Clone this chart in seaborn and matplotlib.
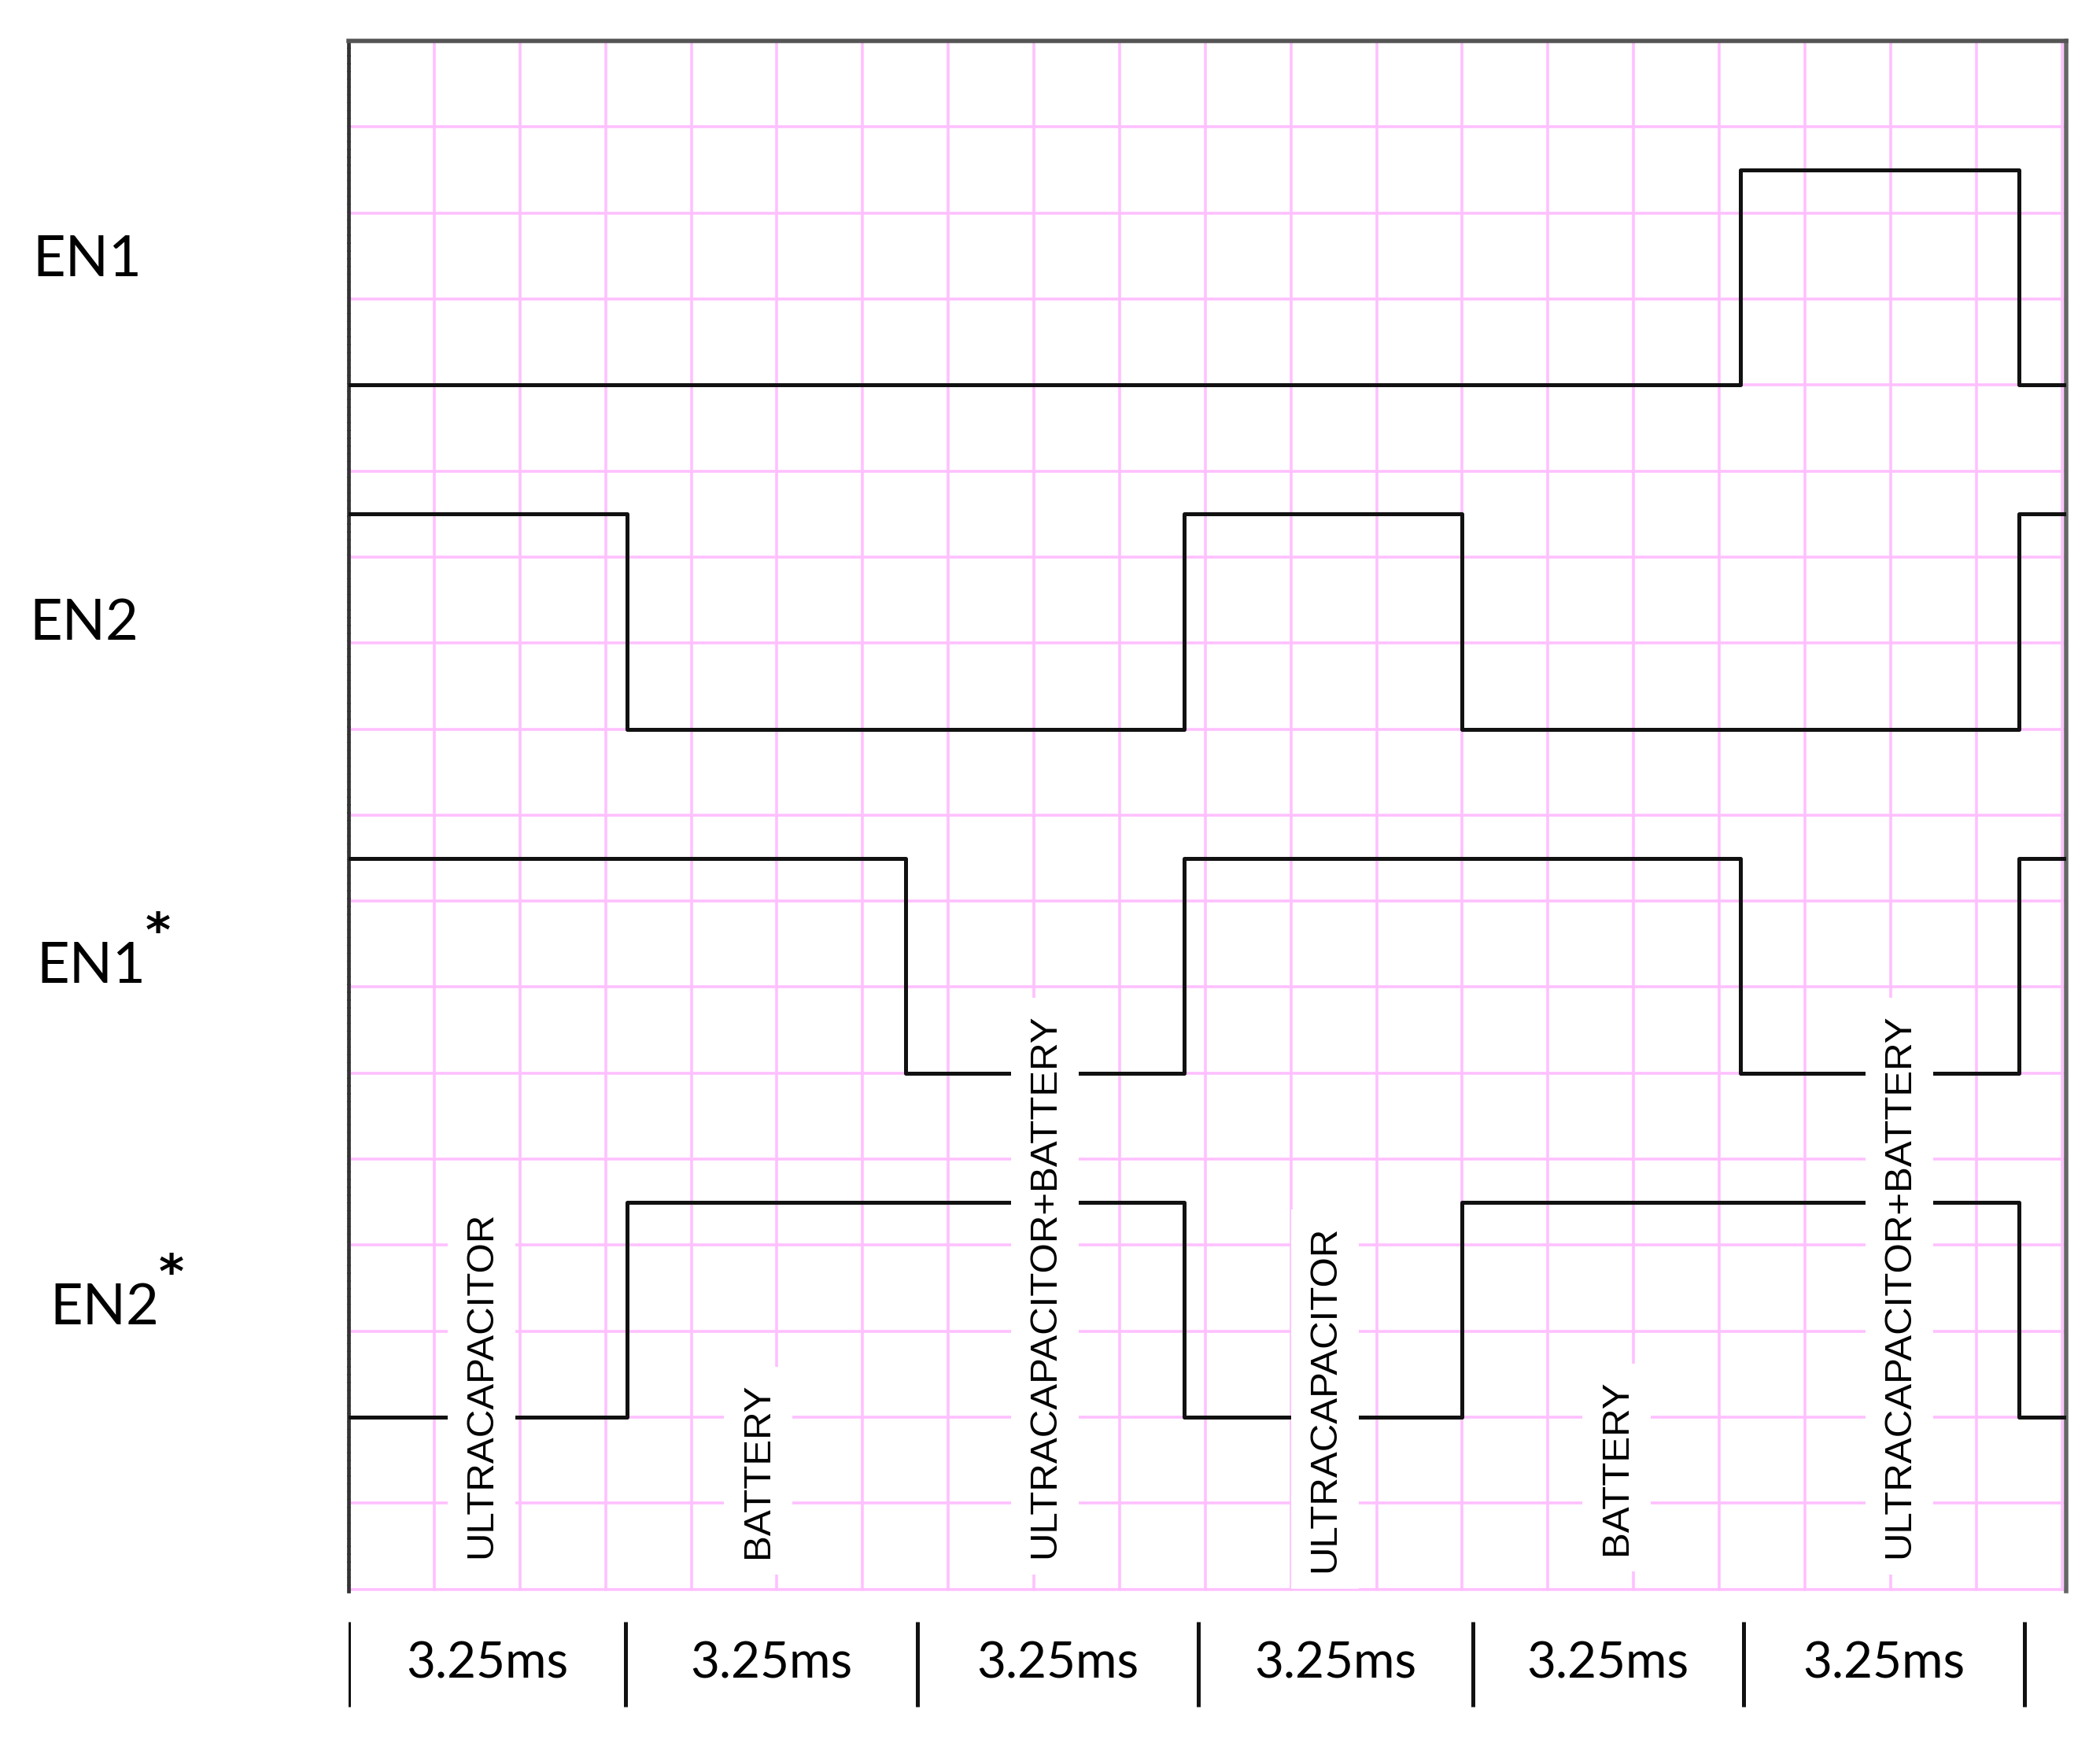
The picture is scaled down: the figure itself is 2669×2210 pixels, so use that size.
import matplotlib
matplotlib.use("Agg")
import matplotlib.pyplot as plt
import matplotlib.transforms as mtransforms
from matplotlib import font_manager
import numpy as np
import pandas as pd
import seaborn as sns

# --- data (time in ms, one grid square = 1 ms) ---
signal_names = ["EN1", "EN2", "EN1", "EN2"]
signal_starred = [False, False, True, True]
edges_ms = [0, 3.25, 6.5, 9.75, 13, 16.25, 19.5, 20.05]
en1_state = [0, 0, 0, 0, 0, 1, 0]
en2_state = [1, 0, 0, 1, 0, 0, 1]
en1_star_state = [1, 1, 0, 1, 1, 0, 1]
en2_star_state = [0, 1, 1, 0, 1, 1, 0]
low_level = [14, 10, 6, 2]
high_level = [16.5, 12.5, 8.5, 4.5]

mode_labels = ["ULTRACAPACITOR", "BATTERY", "ULTRACAPACITOR+BATTERY",
               "ULTRACAPACITOR", "BATTERY", "ULTRACAPACITOR+BATTERY"]
mode_x = [1.55, 4.78, 8.13, 11.4, 14.8, 18.1]
mode_y = [0.36, 0.36, 0.36, 0.2, 0.4, 0.36]

divider_ms = [0, 3.23, 6.64, 9.92, 13.12, 16.28, 19.56]
period_label = "3.25ms"

PINK = "#ffc0ff"

sns.set_theme(style="white")
available = {f.name for f in font_manager.fontManager.ttflist}
label_font = ["Lato", "DejaVu Sans"]
mode_font = ["Liberation Sans Narrow"] if "Liberation Sans Narrow" in available else ["Liberation Sans"]
plt.rcParams["font.family"] = label_font

fig = plt.figure(figsize=(26.69, 22.10), dpi=100)
ax = fig.add_axes([0.166, 0.0851, 0.8179, 0.8914])

# build a long table for seaborn
states = [en1_state, en2_state, en1_star_state, en2_star_state]
rows = []
for i, st in enumerate(states):
    name = signal_names[i] + ("*" if signal_starred[i] else "")
    vals = [low_level[i] + (high_level[i] - low_level[i]) * s for s in st]
    vals = vals + [vals[-1]]
    for t, v in zip(edges_ms, vals):
        rows.append({"signal": name, "t": t, "level": v})
df = pd.DataFrame(rows)

sns.lineplot(data=df, x="t", y="level", units="signal", estimator=None,
             drawstyle="steps-post", color="#111111", lw=3.6, sort=False,
             ax=ax, zorder=3)

ax.set_xlim(0, 20.05)
ax.set_ylim(-0.02, 18)
ax.set_xticks(np.arange(0, 21))
ax.set_yticks(np.arange(0, 19))
ax.set_axisbelow(True)
ax.grid(True, color=PINK, lw=2.6)
ax.tick_params(axis="x", length=5, width=2, color=PINK, labelbottom=False)
ax.tick_params(axis="y", length=0, labelleft=False)
ax.set_xlabel("")
ax.set_ylabel("")

ax.spines["bottom"].set_visible(False)
ax.spines["top"].set_color("#555555")
ax.spines["top"].set_linewidth(4)
ax.spines["right"].set_color("#666666")
ax.spines["right"].set_linewidth(4)
ax.spines["left"].set_color("#333333")
ax.spines["left"].set_linewidth(3.4)
ax.spines["left"].set_linestyle((0, (1.2, 0.9)))

# operating mode labels with white boxes
for lbl, x, y in zip(mode_labels, mode_x, mode_y):
    ax.text(x, y, lbl, rotation=90, ha="center", va="bottom",
            family=mode_font, fontsize=35.5, color="black", zorder=4,
            bbox=dict(facecolor="white", edgecolor="none", pad=15))

# signal names on the left, with the starred ones getting a superscript
trans = mtransforms.blended_transform_factory(fig.transFigure, ax.transData)
name_x = [0.0154, 0.0139, 0.0172, 0.0236]
name_y = [15.26, 11.04, 7.05, 3.08]
for i in range(4):
    t = ax.text(name_x[i], name_y[i], signal_names[i], transform=trans,
                ha="left", va="baseline", fontsize=52, color="black")
    if signal_starred[i]:
        ax.annotate("*", xy=(1, 1), xycoords=t, xytext=(0, 28),
                    textcoords="offset points", ha="left", va="top",
                    fontsize=44, fontweight="bold", family="DejaVu Sans",
                    color="black")

# period strip below the diagram
ax2 = fig.add_axes([0.166, 0.0163, 0.8179, 0.0534], sharex=ax)
ax2.set_ylim(0, 1)
ax2.axis("off")
ax2.vlines(divider_ms, 0.04, 0.96, color="#111111", lw=3.6)
for a, b in zip(divider_ms[:-1], divider_ms[1:]):
    ax2.text((a + b) / 2, 0.5, period_label, ha="center", va="center",
             fontsize=46, color="black")

fig.savefig("out.png", dpi=100)
